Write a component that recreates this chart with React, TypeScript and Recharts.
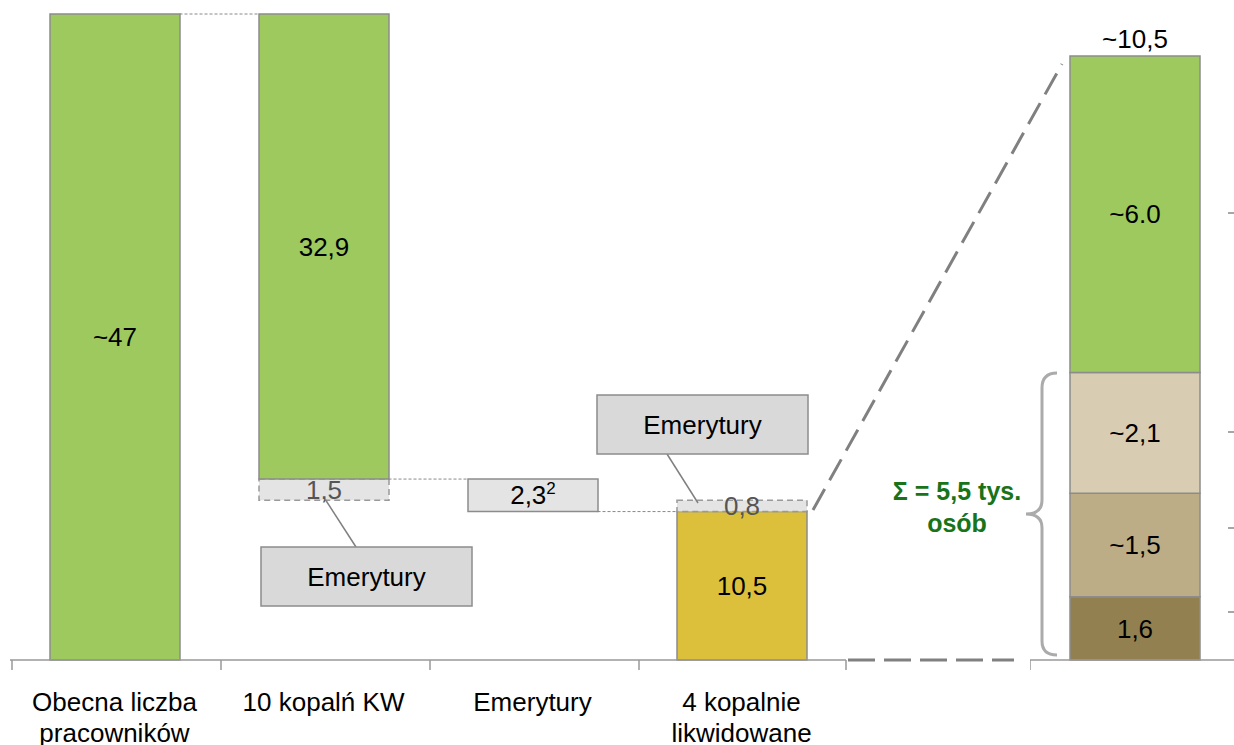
import { BarChart, Bar, XAxis, YAxis, LabelList } from 'recharts';

// left waterfall: stacked from bottom to top
const categories = ['Obecna liczba\npracowników', '10 kopalń KW', 'Emerytury', '4 kopalnie\nlikwidowane'];
const baseValues = [0, 11.3, 10.5, 0];
const closingValues = [0, 0, 0, 10.5];
const dashedValues = [0, 1.5, 0, 0.8];
const retireValues = [0, 0, 2.3, 0];
const greenValues = [45.7, 32.9, 0, 0];
const greenLabels = ['~47', '32,9', '', ''];
const closingLabels = ['', '', '', '10,5'];
const dashedLabels = ['', '1,5', '', '0,8'];
const retireLabels = ['', '', '2,3', ''];

// right breakdown of the 10,5 (bottom to top)
const splitValues = [1.1, 1.8, 2.1, 5.5];
const splitLabels = ['1,6', '~1,5', '~2,1', '~6.0'];
const splitColors = ['#938050', '#BCAD87', '#D8CDB3', '#9DC95E'];
const splitTotal = '~10,5';

const FONT = '"Liberation Sans", Arial, sans-serif';
const AXIS_Y = 660;
const LEFT_MAX = 45.7;
const RIGHT_MAX = 10.5;
const LEFT_X0 = 10;
const BAND = 209;
const BAR = 130;
const STROKE = '#8C8C8C';

const leftData = categories.map((name, i) => ({
  name,
  base: baseValues[i],
  closing: closingValues[i],
  dashed: dashedValues[i],
  retire: retireValues[i],
  green: greenValues[i],
  greenLabel: greenLabels[i],
  closingLabel: closingLabels[i],
  dashedLabel: dashedLabels[i],
  retireLabel: retireLabels[i],
}));

const rightRow: Record<string, any> = { name: '' };
splitValues.forEach((v, i) => (rightRow[`s${i}`] = v));
const rightData = [rightRow];

const yL = (v: number) => 14 + (1 - v / LEFT_MAX) * (AXIS_Y - 14);
const barLeft = (i: number) => LEFT_X0 + BAND * i + (BAND - BAR) / 2;

function LeftTick({ x, payload }: any) {
  const lines = String(payload.value).split('\n');
  const last = payload.value === categories[categories.length - 1];
  return (
    <g>
      <line x1={x - BAND / 2 + 2} x2={x - BAND / 2 + 2} y1={AXIS_Y} y2={AXIS_Y + 10} stroke="#999" strokeWidth={1.5} />
      {last && <line x1={x + BAND / 2} x2={x + BAND / 2} y1={AXIS_Y} y2={AXIS_Y + 10} stroke="#999" strokeWidth={1.5} />}
      <text x={x} y={711} textAnchor="middle" fontSize={26} fontFamily={FONT} fill="#000">
        {lines.map((l, i) => (
          <tspan key={i} x={x} dy={i ? 31 : 0}>{l}</tspan>
        ))}
      </text>
    </g>
  );
}

function RightTick({ x }: any) {
  return <line x1={x - 105} x2={x - 105} y1={AXIS_Y} y2={AXIS_Y + 10} stroke="#999" strokeWidth={1.5} />;
}

function SupLabel(props: any) {
  const vb = props.viewBox || props;
  if (!props.value) return null;
  const cx = vb.x + vb.width / 2;
  const cy = vb.y + vb.height / 2;
  return (
    <text x={cx} y={cy + 9} textAnchor="middle" fontSize={26} fontFamily={FONT} fill="#000">
      {props.value}
      <tspan fontSize={17} dy={-10}>2</tspan>
    </text>
  );
}

const labelStyle = { fontSize: 26, fontFamily: FONT };

export default function App() {
  const callouts = [
    { x: 261, y: 547, w: 211, h: 59, from: [356, 547], to: [325, 499] },
    { x: 597, y: 395, w: 211, h: 59, from: [667, 454], to: [698, 503] },
  ];
  return (
    <div style={{ position: 'fixed', left: 0, top: 0, width: 1234, height: 745, background: '#fff', overflow: 'hidden' }}>
      <div style={{ position: 'absolute', left: 0, top: 0 }}>
        <BarChart width={1234} height={745} data={leftData} margin={{ top: 14, right: 1234 - LEFT_X0 - 4 * BAND, left: LEFT_X0, bottom: 5 }} barSize={BAR}>
          <XAxis
            dataKey="name"
            height={80}
            interval={0}
            tickLine={false}
            axisLine={{ stroke: '#999', strokeWidth: 1.5 }}
            tick={<LeftTick />}
          />
          <YAxis hide domain={[0, LEFT_MAX]} />
          <Bar dataKey="base" stackId="w" fill="transparent" isAnimationActive={false} />
          <Bar dataKey="closing" stackId="w" fill="#DCC03B" stroke={STROKE} strokeWidth={1.5} isAnimationActive={false}>
            <LabelList dataKey="closingLabel" position="center" fill="#000" style={labelStyle} />
          </Bar>
          <Bar dataKey="dashed" stackId="w" fill="#E4E4E4" stroke="#999" strokeWidth={1.5} strokeDasharray="6 4" isAnimationActive={false}>
            <LabelList dataKey="dashedLabel" position="center" fill="#555" style={labelStyle} />
          </Bar>
          <Bar dataKey="retire" stackId="w" fill="#E4E4E4" stroke={STROKE} strokeWidth={1.5} isAnimationActive={false}>
            <LabelList dataKey="retireLabel" content={<SupLabel />} />
          </Bar>
          <Bar dataKey="green" stackId="w" fill="#9DC95E" stroke={STROKE} strokeWidth={1.5} isAnimationActive={false}>
            <LabelList dataKey="greenLabel" position="center" fill="#000" style={labelStyle} />
          </Bar>
        </BarChart>
      </div>
      <div style={{ position: 'absolute', left: 1030, top: 0 }}>
        <BarChart width={210} height={745} data={rightData} margin={{ top: 56, right: 0, left: 0, bottom: 5 }} barSize={BAR}>
          <XAxis dataKey="name" height={80} tickLine={false} axisLine={{ stroke: '#999', strokeWidth: 1.5 }} tick={<RightTick />} />
          <YAxis hide domain={[0, RIGHT_MAX]} />
          {splitValues.map((_, i) => (
            <Bar key={i} dataKey={`s${i}`} stackId="r" fill={splitColors[i]} stroke={STROKE} strokeWidth={1.5} isAnimationActive={false}>
              <LabelList position="center" fill="#000" style={labelStyle} formatter={() => splitLabels[i]} />
              {i === splitValues.length - 1 && (
                <LabelList position="top" offset={8} fill="#000" style={labelStyle} formatter={() => splitTotal} />
              )}
            </Bar>
          ))}
        </BarChart>
      </div>
      <svg width={1234} height={745} style={{ position: 'absolute', left: 0, top: 0, pointerEvents: 'none' }}>
        {/* dotted connectors between waterfall steps */}
        <line x1={barLeft(0) + BAR} x2={barLeft(1)} y1={yL(LEFT_MAX)} y2={yL(LEFT_MAX)} stroke="#888" strokeDasharray="3 2" />
        <line x1={barLeft(1) + BAR} x2={barLeft(2)} y1={yL(LEFT_MAX - greenValues[1])} y2={yL(LEFT_MAX - greenValues[1])} stroke="#888" strokeDasharray="3 2" />
        <line x1={barLeft(2) + BAR} x2={barLeft(3)} y1={yL(closingValues[3])} y2={yL(closingValues[3])} stroke="#888" strokeDasharray="3 2" />
        {/* zoom lines to the breakdown bar */}
        <line x1={813} y1={510} x2={1062} y2={64} stroke="#808080" strokeWidth={3} strokeDasharray="24 10" />
        <line x1={848} y1={AXIS_Y} x2={1014} y2={AXIS_Y} stroke="#808080" strokeWidth={3} strokeDasharray="27 9" />
        {/* callouts */}
        {callouts.map((c, i) => (
          <g key={i}>
            <line x1={c.from[0]} y1={c.from[1]} x2={c.to[0]} y2={c.to[1]} stroke="#808080" strokeWidth={1.5} />
            <rect x={c.x} y={c.y} width={c.w} height={c.h} fill="#D9D9D9" stroke="#8C8C8C" strokeWidth={1.5} />
            <text x={c.x + c.w / 2} y={c.y + c.h / 2 + 9} textAnchor="middle" fontSize={26} fontFamily={FONT} fill="#000">Emerytury</text>
          </g>
        ))}
        {/* brace */}
        <path
          d="M1057,373 Q1042,373 1042,388 L1042,500 Q1042,514 1026,514 Q1042,514 1042,528 L1042,641 Q1042,655 1057,655"
          fill="none"
          stroke="#ABABAB"
          strokeWidth={3}
        />
        <text x={957} y={500} textAnchor="middle" fontSize={25} fontWeight="bold" fontFamily={FONT} fill="#197319">Σ = 5,5 tys.</text>
        <text x={957} y={532} textAnchor="middle" fontSize={25} fontWeight="bold" fontFamily={FONT} fill="#197319">osób</text>
        {/* clipped marks at right edge */}
        {[213, 432, 528, 612].map((y) => (
          <line key={y} x1={1228} x2={1234} y1={y} y2={y} stroke="#888" strokeWidth={1.5} />
        ))}
      </svg>
    </div>
  );
}
